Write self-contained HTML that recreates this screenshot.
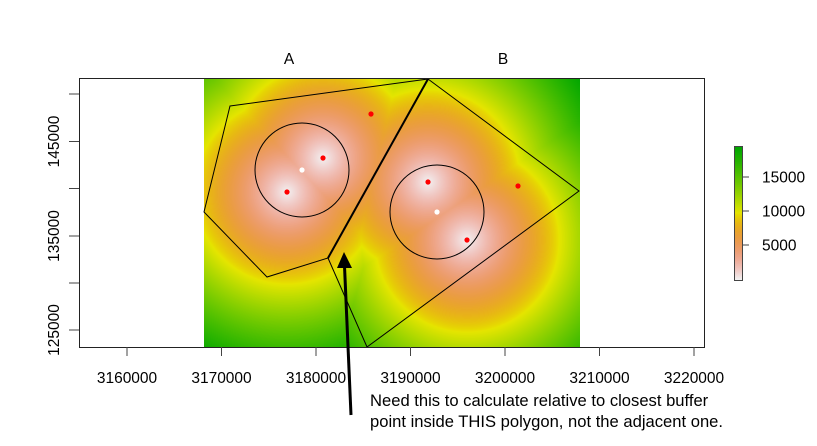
<!DOCTYPE html>
<html><head><meta charset="utf-8"><style>
html,body{margin:0;padding:0;background:#fff;}
#w{position:relative;width:817px;height:446px;overflow:hidden;font-family:"Liberation Sans",Arial,sans-serif;}
canvas{position:absolute;}
svg{position:absolute;left:0;top:0;}
</style></head><body><div id="w">
<canvas id="r" width="376" height="269" style="left:204px;top:78px"></canvas>
<canvas id="cb" width="9" height="135" style="left:734px;top:146px"></canvas>
<svg width="817" height="446" viewBox="0 0 817 446">
<g fill="none" stroke="#000" stroke-width="1">
<polygon points="230,106 428,79 328,258 267,277 204,212"/>
<polygon points="428,79 579,191 367,347 328,258"/>
<line x1="428" y1="79" x2="328" y2="258" stroke-width="2"/>
<circle cx="302" cy="170" r="47"/>
<circle cx="437" cy="212" r="47"/>
<rect x="79.5" y="78.5" width="625" height="269" stroke="#222"/>
<rect x="734.5" y="146.5" width="8" height="134" stroke="#444"/>
</g>
<g fill="#f00">
<circle cx="371" cy="114" r="2.6"/><circle cx="323" cy="158" r="2.6"/><circle cx="287" cy="192" r="2.6"/>
<circle cx="428" cy="182" r="2.6"/><circle cx="518" cy="186" r="2.6"/><circle cx="467" cy="240" r="2.6"/>
</g>
<g fill="#fff"><circle cx="302" cy="170" r="2.6"/><circle cx="437" cy="212" r="2.6"/></g>
<g stroke="#444" stroke-width="1">
<line x1="127" y1="347" x2="127" y2="356"/><line x1="221.5" y1="347" x2="221.5" y2="356"/><line x1="316" y1="347" x2="316" y2="356"/><line x1="410.5" y1="347" x2="410.5" y2="356"/><line x1="505" y1="347" x2="505" y2="356"/><line x1="599.5" y1="347" x2="599.5" y2="356"/><line x1="694" y1="347" x2="694" y2="356"/>
<line x1="69" y1="94" x2="79" y2="94"/><line x1="69" y1="141.5" x2="79" y2="141.5"/><line x1="69" y1="188.5" x2="79" y2="188.5"/><line x1="69" y1="236" x2="79" y2="236"/><line x1="69" y1="283" x2="79" y2="283"/><line x1="69" y1="330" x2="79" y2="330"/>
<line x1="743" y1="177" x2="749" y2="177"/><line x1="743" y1="211" x2="749" y2="211"/><line x1="743" y1="245" x2="749" y2="245"/>
</g>
<g font-size="15.5" fill="#000" text-anchor="middle">
<text x="127" y="383">3160000</text><text x="221.5" y="383">3170000</text><text x="316" y="383">3180000</text><text x="410.5" y="383">3190000</text><text x="505" y="383">3200000</text><text x="599.5" y="383">3210000</text><text x="694" y="383">3220000</text>
<text transform="translate(59,141.5) rotate(-90)">145000</text>
<text transform="translate(59,236) rotate(-90)">135000</text>
<text transform="translate(59,330) rotate(-90)">125000</text>
<text x="289" y="64">A</text><text x="503" y="64">B</text>
</g>
<g font-size="15.5" fill="#000">
<text x="762" y="182.5">15000</text><text x="762" y="216.5">10000</text><text x="762" y="250.5">5000</text>
</g>
<g font-size="16.6" fill="#000">
<text x="370" y="406">Need this to calculate relative to closest buffer</text>
<text x="370" y="427">point inside THIS polygon, not the adjacent one.</text>
</g>
<line x1="351" y1="415" x2="344.5" y2="266" stroke="#000" stroke-width="3"/>
<polygon points="344,252 337,268 352,268" fill="#000"/>
</svg>
</div>
<script>
function hsv(h,s,v){var i=Math.floor(h*6),f=h*6-i,p=v*(1-s),q=v*(1-f*s),t=v*(1-(1-f)*s),r,g,b;
switch(((i%6)+6)%6){case 0:r=v;g=t;b=p;break;case 1:r=q;g=v;b=p;break;case 2:r=p;g=v;b=t;break;case 3:r=p;g=q;b=v;break;case 4:r=t;g=p;b=v;break;default:r=v;g=p;b=q;}
return [r*255,g*255,b*255];}
function col(val){var t=1-Math.min(Math.max(val/19500,0),1);
if(t<0.5){var u=t/0.5;return hsv(4/12+(2/12-4/12)*u,1,0.65+0.25*u);}
var u=(t-0.5)/0.5;var us=Math.pow(u,1.3);return hsv(2/12*(1-Math.pow(u,0.8)),1-us,0.9+0.05*u);}
var pts=[[323,158],[287,192],[428,182],[467,240]];
var c=document.getElementById('r'),x=c.getContext('2d'),im=x.createImageData(376,269);
for(var j=0;j<269;j++)for(var i=0;i<376;i++){var px=204+i+0.5,py=78+j+0.5,d=1e9;
for(var k=0;k<4;k++){var dx=px-pts[k][0],dy=py-pts[k][1];d=Math.min(d,Math.sqrt(dx*dx+dy*dy));}
var cc=col(d/94.5*10000),o=(j*376+i)*4;im.data[o]=cc[0];im.data[o+1]=cc[1];im.data[o+2]=cc[2];im.data[o+3]=255;}
x.putImageData(im,0,0);
var c2=document.getElementById('cb'),x2=c2.getContext('2d');
for(var j=0;j<135;j++){var v=(279-(146+j))/34*5000;var cc=col(v);x2.fillStyle='rgb('+(cc[0]|0)+','+(cc[1]|0)+','+(cc[2]|0)+')';x2.fillRect(0,j,9,1);}
</script>
</body></html>
